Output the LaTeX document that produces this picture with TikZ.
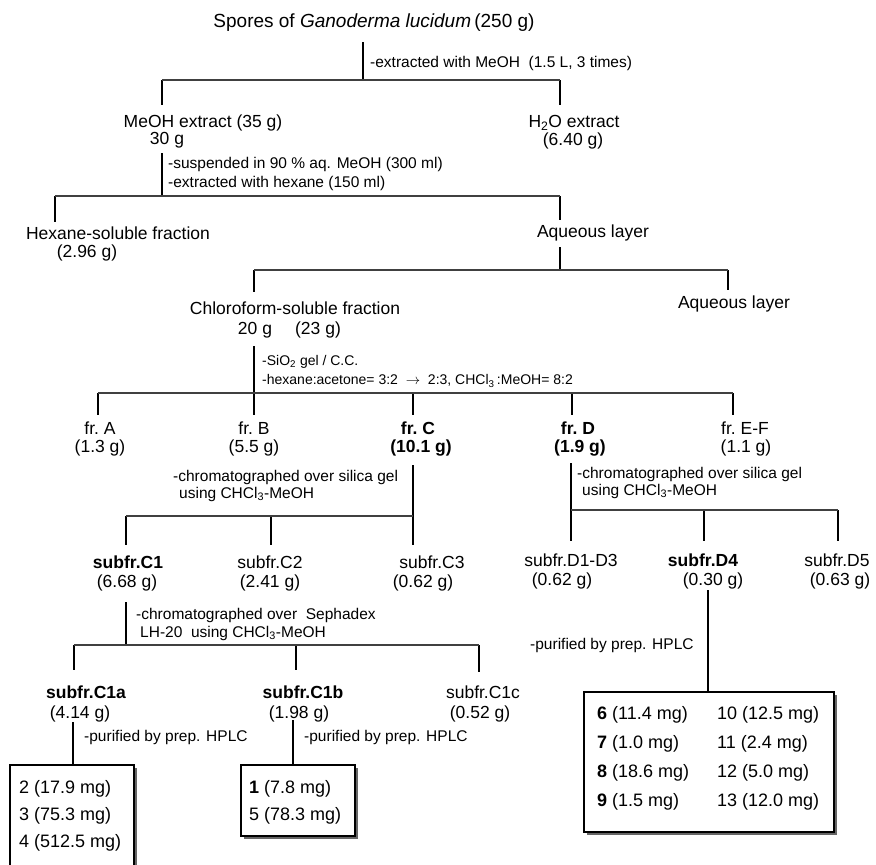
\documentclass[tikz,border=0pt]{standalone}
\usepackage{fontspec}
\setmainfont{Liberation Sans}
\newcommand{\stem}[4]{\coordinate (#1t) at (#2,#3); \coordinate (#1b) at (#2,#4); \draw[ln] (#1t) -- (#1b);}
\begin{document}
\begin{tikzpicture}[x=1pt,y=-1pt,
  ln/.style={line width=1.4pt, black},
  bar/.style={line width=1.8pt, black!75},
  txt/.style={font=\fontsize{17.5}{20}\selectfont, inner sep=0pt},
  btxt/.style={font=\fontsize{17.5}{20}\selectfont\bfseries, inner sep=0pt},
  lab/.style={font=\fontsize{15.5}{18}\selectfont, anchor=west, inner sep=0pt},
  slab/.style={font=\fontsize{14}{16}\selectfont, anchor=west, inner sep=0pt},
  rtxt/.style={font=\fontsize{18}{20}\selectfont, anchor=west, inner sep=0pt},
  shad/.style={fill=black!60},
  boxln/.style={line width=1.1pt, black, fill=white}]
\useasboundingbox (0,0) rectangle (876,865);
\fill[white] (0,0) rectangle (876,865);

% ---------- nodes ----------
\node[txt, font=\fontsize{19}{22}\selectfont] (title) at (374,23) {Spores of \textit{Ganoderma lucidum}\,(250 g)};

\node[txt] (meoh) at (203,123) {MeOH extract (35 g)};
\node[txt] (meoh2) at (167,140) {30 g};
\node[txt] (h2o) at (574,123) {H\textsubscript{2}O extract};
\node[txt] (h2o2) at (573,141) {(6.40 g)};

\node[txt] (hex) at (118,233) {Hexane-soluble fraction};
\node[txt] (hex2) at (87,253) {(2.96 g)};
\node[txt] (aq1) at (593,233) {Aqueous layer};

\node[txt] (chl) at (295,308) {Chloroform-soluble fraction};
\node[txt] (chl2a) at (255,330) {20 g};
\node[txt] (chl2b) at (318,330) {(23 g)};
\node[txt] (aq2) at (734,304) {Aqueous layer};

\node[txt] (frA) at (100,428) {fr.\ A};
\node[txt] (frA2) at (100,448) {(1.3 g)};
\node[txt] (frB) at (254,428) {fr.\ B};
\node[txt] (frB2) at (254,448) {(5.5 g)};
\node[btxt] (frC) at (418,428) {fr.\ C};
\node[btxt] (frC2) at (421,448) {(10.1 g)};
\node[btxt] (frD) at (578,428) {fr.\ D};
\node[btxt] (frD2) at (580,448) {(1.9 g)};
\node[txt] (frE) at (745,428) {fr.\ E-F};
\node[txt] (frE2) at (746,448) {(1.1 g)};

\node[btxt] (c1) at (128,562) {subfr.C1};
\node[txt] (c1w) at (127,583) {(6.68 g)};
\node[txt] (c2) at (270,562) {subfr.C2};
\node[txt] (c2w) at (270,583) {(2.41 g)};
\node[txt] (c3) at (432,562) {subfr.C3};
\node[txt] (c3w) at (423,583) {(0.62 g)};

\node[txt] (d13) at (571,560) {subfr.D1-D3};
\node[txt] (d13w) at (562,581) {(0.62 g)};
\node[btxt] (d4) at (703,560) {subfr.D4};
\node[txt] (d4w) at (713,581) {(0.30 g)};
\node[txt] (d5) at (837,560) {subfr.D5};
\node[txt] (d5w) at (840,581) {(0.63 g)};

\node[btxt] (c1a) at (86,692) {subfr.C1a};
\node[txt] (c1aw) at (80,714) {(4.14 g)};
\node[btxt] (c1b) at (303,692) {subfr.C1b};
\node[txt] (c1bw) at (299,714) {(1.98 g)};
\node[txt] (c1c) at (483,692) {subfr.C1c};
\node[txt] (c1cw) at (480,714) {(0.52 g)};

% ---------- step labels ----------
\node[lab] (l1) at (370,63) {-extracted with MeOH\ \ (1.5 L, 3 times)};
\node[lab] (l2) at (168,164) {-suspended in 90 \% aq. MeOH (300 ml)};
\node[lab] (l3) at (168,183) {-extracted with hexane (150 ml)};
\node[slab] (l4) at (262,362) {-SiO\textsubscript{2} gel / C.C.};
\node[slab] (l5) at (262,381) {-hexane:acetone= 3:2\ \ $\rightarrow$\ \ 2:3, CHCl\textsubscript{3}\,:MeOH= 8:2};
\node[lab] (l6) at (173,477) {-chromatographed over silica gel};
\node[lab] (l7) at (179,494) {using CHCl\textsubscript{3}-MeOH};
\node[lab] (l8) at (577,474) {-chromatographed over silica gel};
\node[lab] (l9) at (582,491) {using CHCl\textsubscript{3}-MeOH};
\node[lab] (l10) at (136,615) {-chromatographed over\ \ Sephadex};
\node[lab] (l11) at (140,633) {LH-20\ \ using CHCl\textsubscript{3}-MeOH};
\node[lab] (l12) at (530,645) {-purified by prep. HPLC};
\node[lab] (l13) at (84,737) {-purified by prep. HPLC};
\node[lab] (l14) at (304,737) {-purified by prep. HPLC};

% ---------- tree connectors ----------
\stem{s1}{363}{42}{80}
\stem{da1}{162}{80}{105}
\stem{db1}{560}{80}{105}
\draw[bar] (da1t) -- (db1t);

\stem{s2}{162}{153}{196}
\stem{da2}{55}{196}{222}
\stem{db2}{560}{196}{220}
\draw[bar] (da2t) -- (db2t);

\stem{s3}{560}{247}{270}
\stem{da3}{254}{270}{292}
\stem{db3}{728}{270}{290}
\draw[bar] (da3t) -- (db3t);

\stem{s4}{254}{346}{415}
\stem{da4}{98}{393}{415}
\stem{dc4}{413}{393}{415}
\stem{dd4}{572}{393}{415}
\stem{de4}{733}{393}{415}
\draw[bar] (da4t) -- (de4t);

\stem{s5}{413}{465}{516}
\stem{da5}{126}{516}{545}
\stem{db5}{271}{516}{545}
\stem{dc5}{413}{516}{545}
\draw[bar] (da5t) -- (dc5t);

\stem{s6}{571}{463}{510}
\stem{da6}{571}{510}{541}
\stem{db6}{704}{510}{541}
\stem{dc6}{838}{510}{541}
\draw[bar] (da6t) -- (dc6t);

\stem{s7}{126}{602}{645}
\stem{da7}{74}{645}{670}
\stem{db7}{296}{645}{670}
\stem{dc7}{479}{645}{672}
\draw[bar] (da7t) -- (dc7t);

\stem{s8}{708}{590}{692}
\stem{s9}{73}{722}{765}
\stem{s10}{293}{720}{765}

% ---------- result boxes ----------
% box for subfr.C1a (runs off the bottom edge)
\fill[shad] (134,768) rectangle (137,870);
\fill[white] (10,765) rectangle (134,870);
\draw[line width=1.1pt] (10,870) -- (10,765) -- (134,765) -- (134,870);
\node[rtxt] (r2) at (19,789) {2 (17.9 mg)};
\node[rtxt] (r3) at (19,816) {3 (75.3 mg)};
\node[rtxt] (r4) at (19,843) {4 (512.5 mg)};

% box for subfr.C1b
\fill[shad] (244,768) rectangle (358,839);
\draw[boxln] (241,765) rectangle (355,836);
\node[rtxt] (r1) at (249,789) {\textbf{1} (7.8 mg)};
\node[rtxt] (r5) at (249,816) {5 (78.3 mg)};

% box for subfr.D4
\fill[shad] (587,695) rectangle (837,835);
\draw[boxln] (584,692) rectangle (834,832);
\node[rtxt] (r6) at (597,715) {\textbf{6} (11.4 mg)};
\node[rtxt] (r7) at (597,744) {\textbf{7} (1.0 mg)};
\node[rtxt] (r8) at (597,773) {\textbf{8} (18.6 mg)};
\node[rtxt] (r9) at (597,802) {\textbf{9} (1.5 mg)};
\node[rtxt] (r10) at (717,715) {10 (12.5 mg)};
\node[rtxt] (r11) at (717,744) {11 (2.4 mg)};
\node[rtxt] (r12) at (717,773) {12 (5.0 mg)};
\node[rtxt] (r13) at (717,802) {13 (12.0 mg)};
\end{tikzpicture}
\end{document}
